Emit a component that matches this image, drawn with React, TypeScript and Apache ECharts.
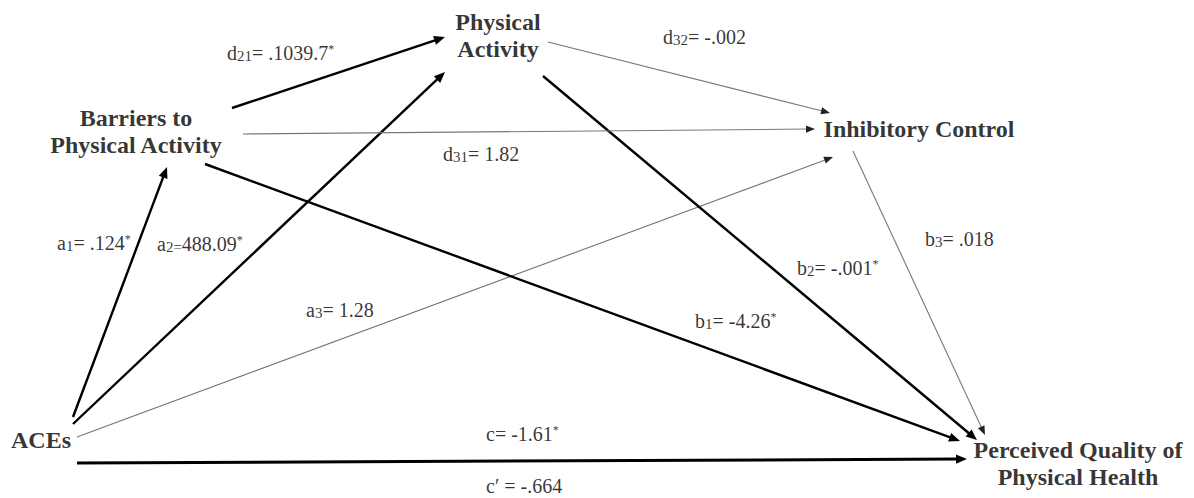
import React, { useEffect, useRef } from "react";
import * as echarts from "echarts";

const W = 1194;
const H = 498;

// Variables (nodes) of the path model
const nodeNames = [
  "ACEs",
  "Barriers to\nPhysical Activity",
  "Physical\nActivity",
  "Inhibitory Control",
  "Perceived Quality of\nPhysical Health",
];
const nodeX = [41, 136, 498, 919, 1078];
const nodeY = [440, 131, 35, 129, 463];

// Path coefficients
const pathSymbols = ["a", "a", "a", "b", "b", "b", "d", "d", "d", "c", "c′"];
const pathSubs = ["1", "2=", "3", "1", "2", "3", "21", "31", "32", "", ""];
const pathCoefs = [".124", "488.09", "1.28", "-4.26", "-.001", ".018", ".1039.7", "1.82", "-.002", "-1.61", "-.664"];
const pathSig = [1, 1, 0, 1, 1, 0, 1, 0, 0, 1, 0];

// Label layout (left x, baseline y)
const labelX = [57, 157, 306, 695, 797, 925, 227, 443, 663, 486, 486];
const labelBaseline = [250, 251, 317, 328, 275, 246, 60, 161, 44, 441, 493];

// Arrows: path index, start and end (tip) points
const edgePath = [0, 1, 2, 3, 4, 5, 6, 7, 8, 9];
const edgeX1 = [73, 73, 77, 205, 543, 853, 232, 243, 548, 77];
const edgeY1 = [417, 424, 437, 164, 76, 151, 108, 134, 42, 463];
const edgeX2 = [167, 445, 833, 960, 977, 985, 445, 815, 830, 967];
const edgeY2 = [167, 72, 157, 441, 440, 435, 37, 129, 113, 459];

const SERIF = "'Liberation Serif', 'Times New Roman', serif";
const LABEL_SIZE = 20;

function labelText(i: number): string {
  const sub = pathSubs[i];
  let s = pathSymbols[i];
  if (sub) s += `{s|${sub}}`;
  if (!sub.endsWith("=")) s += i === 10 ? " = " : "= ";
  s += pathCoefs[i];
  if (pathSig[i]) s += "{p|*}";
  return s;
}

export default function App() {
  const ref = useRef<HTMLDivElement>(null);
  useEffect(() => {
    if (!ref.current) return;
    const chart = echarts.init(ref.current, undefined, { renderer: "svg" });

    const edgeData = edgePath.map((p, i) => [edgeX1[i], edgeY1[i], edgeX2[i], edgeY2[i], pathSig[p], p]);
    const nodeData = nodeNames.map((n, i) => ({ value: [nodeX[i], nodeY[i]], name: n }));
    const labelData = pathSymbols.map((_, i) => ({
      value: [labelX[i], labelBaseline[i] - 0.3375 * LABEL_SIZE],
      name: labelText(i),
    }));

    chart.setOption({
      animation: false,
      backgroundColor: "#ffffff",
      grid: { left: 0, right: 0, top: 0, bottom: 0 },
      xAxis: { type: "value", min: 0, max: W, show: false },
      yAxis: { type: "value", min: 0, max: H, inverse: true, show: false },
      series: [
        {
          type: "custom",
          silent: true,
          clip: false,
          encode: { x: [0, 2], y: [1, 3] },
          data: edgeData,
          renderItem: (params: any, api: any) => {
            const p1 = api.coord([api.value(0), api.value(1)]);
            const p2 = api.coord([api.value(2), api.value(3)]);
            const sig = api.value(4) === 1;
            const isC = api.value(5) === 9;
            const lw = sig ? (isC ? 3 : 2.4) : 1.1;
            const lineColor = sig ? "#000000" : "#777777";
            const headColor = sig ? "#000000" : "#222222";
            const dx = p2[0] - p1[0];
            const dy = p2[1] - p1[1];
            const len = Math.hypot(dx, dy);
            const ux = dx / len;
            const uy = dy / len;
            const L = sig ? 11 : 9;
            const Hw = sig ? 4.6 : 3.6;
            const bx = p2[0] - ux * L;
            const by = p2[1] - uy * L;
            return {
              type: "group",
              children: [
                {
                  type: "line",
                  shape: { x1: p1[0], y1: p1[1], x2: bx + ux * 2, y2: by + uy * 2 },
                  style: { stroke: lineColor, lineWidth: lw },
                },
                {
                  type: "polygon",
                  shape: {
                    points: [
                      [p2[0], p2[1]],
                      [bx - uy * Hw, by + ux * Hw],
                      [bx + uy * Hw, by - ux * Hw],
                    ],
                  },
                  style: { fill: headColor },
                },
              ],
            };
          },
        },
        {
          type: "scatter",
          silent: true,
          symbolSize: 0,
          itemStyle: { color: "transparent" },
          data: nodeData,
          label: {
            show: true,
            position: [0, 0],
            align: "center",
            verticalAlign: "middle",
            formatter: (p: any) => p.name,
            fontFamily: SERIF,
            fontWeight: "bold",
            fontSize: 24,
            lineHeight: 27,
            color: "#000000",
          },
        },
        {
          type: "scatter",
          silent: true,
          symbolSize: 0,
          itemStyle: { color: "transparent" },
          data: labelData,
          label: {
            show: true,
            position: [0, 0],
            align: "left",
            verticalAlign: "middle",
            formatter: (p: any) => p.name,
            fontFamily: SERIF,
            fontSize: LABEL_SIZE,
            lineHeight: 20,
            color: "#000000",
            rich: {
              s: { fontFamily: SERIF, fontSize: 15, lineHeight: 11, verticalAlign: "bottom", color: "#000000" },
              p: { fontFamily: SERIF, fontSize: 12, lineHeight: 12, verticalAlign: "top", color: "#000000" },
            },
          },
        },
      ],
    });
    return () => chart.dispose();
  }, []);
  return <div ref={ref} style={{ position: "absolute", left: 0, top: 0, width: W, height: H }} />;
}
